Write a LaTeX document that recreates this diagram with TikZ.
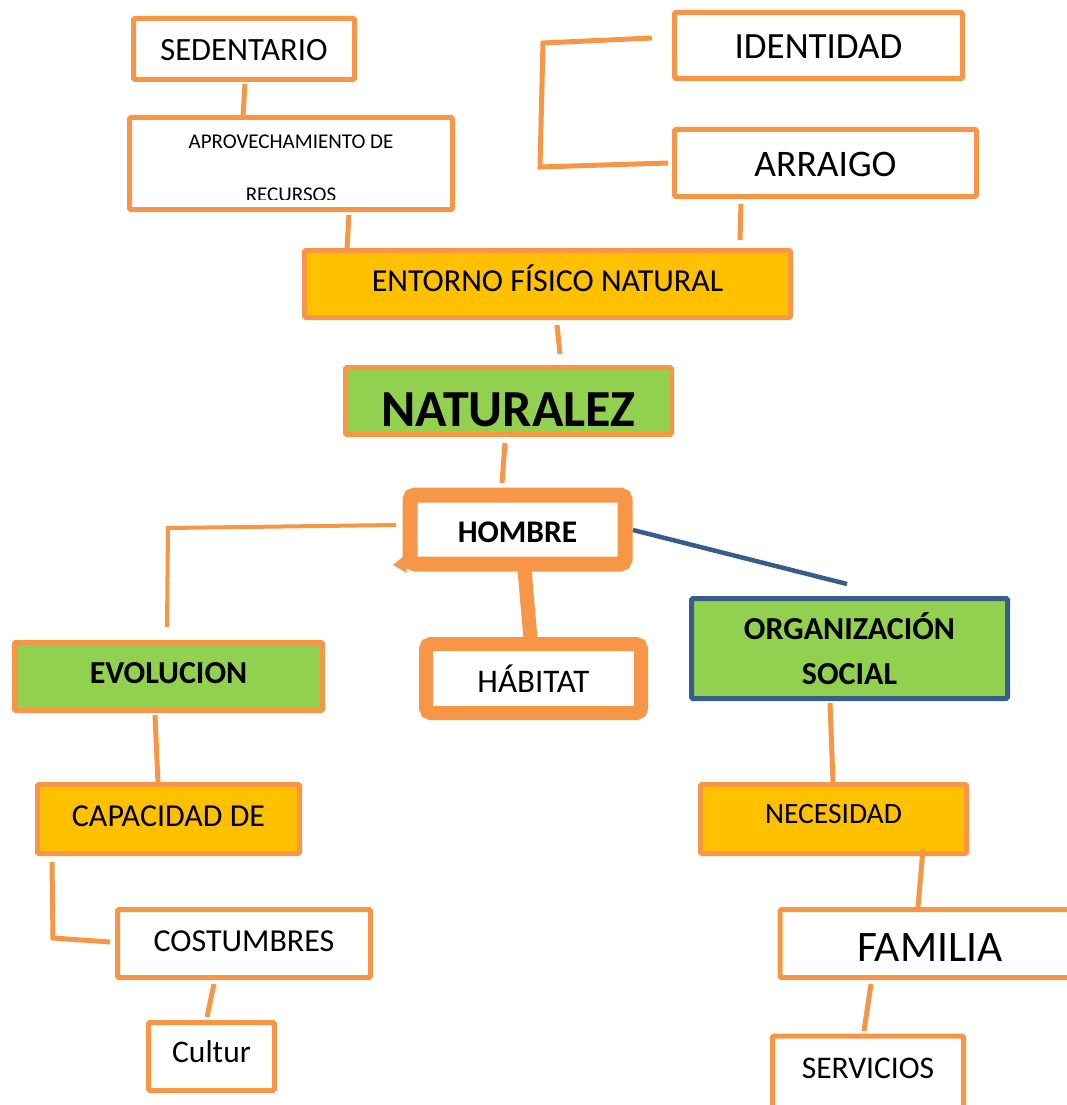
\documentclass[tikz,border=0pt]{standalone}
\usepackage{fontspec}
\setmainfont{Carlito}
\usetikzlibrary{calc}
\definecolor{borange}{HTML}{F79646}
\definecolor{fyellow}{HTML}{FFC000}
\definecolor{fgreen}{HTML}{92D050}
\definecolor{bblue}{HTML}{385D8A}
\newcommand{\fz}[1]{\fontsize{#1}{#1}\selectfont}
\tikzset{
  box/.style={draw=borange, line width=5pt, fill=white, rectangle, inner sep=0pt,
              outer sep=0pt, rounded corners=1.5pt, text depth=0pt},
  fs/.style={font=\fz{#1}, text height={0.632*#1pt}},
  fsb/.style={font=\bfseries\fz{#1}, text height={0.632*#1pt}},
  thickbox/.style={box, line width=15pt, rounded corners=5pt},
  ybox/.style={box, fill=fyellow},
  gbox/.style={box, fill=fgreen},
  conn/.style={draw=borange, line width=5pt},
  thinconn/.style={draw=borange, line width=4pt},
  blueconn/.style={draw=bblue, line width=4.5pt},
}
\begin{document}
\begin{tikzpicture}[x=1pt,y=-1pt]
\useasboundingbox (0,0) rectangle (1067,1105);
\clip (0,0) rectangle (1067,1105);

% nodes
\node[box, minimum width=221pt, minimum height=61pt, fs=32.5] (sed) at (244,49) {\raisebox{-1pt}{SEDENTARIO}};
\node[box, minimum width=323pt, minimum height=92pt] (apr) at (291,163.5) {};
\begin{scope}
  \clip (129,118) rectangle (453,199);
  \node[anchor=base, inner sep=0pt, font=\fz{21}] (apr1) at (291,148) {APROVECHAMIENTO DE};
  \node[anchor=base, inner sep=0pt, font=\fz{21}] (apr2) at (291,201) {RECURSOS};
\end{scope}
\node[box, minimum width=288pt, minimum height=66pt, fs=37] (ide) at (818.5,45.5) {\raisebox{-1pt}{IDENTIDAD}};
\node[box, minimum width=302pt, minimum height=67pt, fs=37.5] (arr) at (825.5,163) {\raisebox{-1.5pt}{ARRAIGO}};
\node[ybox, minimum width=486pt, minimum height=67pt, fs=32] (ent) at (547.5,284) {\raisebox{2.5pt}{ENTORNO FÍSICO NATURAL}};
\node[gbox, minimum width=326pt, minimum height=67pt, fsb=52] (nat) at (508.5,401) {\raisebox{-9pt}{NATURALEZ}};
\node[thickbox, minimum width=215pt, minimum height=69pt, fsb=31.5] (hom) at (517.5,529.5) {\raisebox{-3pt}{HOMBRE}};
\node[thickbox, line width=14pt, minimum width=215pt, minimum height=69pt, fs=33] (hab) at (533.5,678.5) {\raisebox{-3.5pt}{HÁBITAT}};
\node[gbox, minimum width=308pt, minimum height=68pt, fsb=32] (evo) at (168.5,676.5) {\raisebox{3.5pt}{EVOLUCION}};
\node[ybox, minimum width=262pt, minimum height=69pt, fs=32] (cap) at (168.5,819) {\raisebox{3pt}{CAPACIDAD DE}};
\node[box, minimum width=253pt, minimum height=68pt, fs=32] (cos) at (244,943.5) {\raisebox{2.5pt}{COSTUMBRES}};
\node[box, minimum width=126pt, minimum height=68pt, fs=31.5] (cul) at (211.5,1056.5) {\raisebox{3.5pt}{Cultur}};
\node[gbox, draw=bblue, minimum width=316pt, minimum height=100pt, fsb=32] (org) at (849.5,648.5)
      {\makebox[0pt]{\raisebox{19.5pt}[0pt][0pt]{ORGANIZACIÓN}}\makebox[0pt]{\raisebox{-25.5pt}[0pt][0pt]{SOCIAL}}};
\node[ybox, minimum width=266pt, minimum height=69pt, fs=29.5] (nec) at (833.5,819) {\raisebox{5pt}{NECESIDAD}};
\node[box, minimum width=300pt, minimum height=68pt, fs=43.5] (fam) at (930,943.5) {\raisebox{-4.5pt}{FAMILIA}};
\node[box, minimum width=191pt, minimum height=72pt, fs=31.5] (ser) at (868,1072) {\raisebox{3.5pt}{SERVICIOS}};

% small notch on HOMBRE
\fill[borange] (404,556) -- (393,565) -- (407,573) -- cycle;

% connectors
\draw[conn] ($(sed.south)+(1,4.5)$) -- ($(apr.north)+(-48,-2.5)$);
\draw[conn] ($(apr.south)+(58,5.5)$) -- ($(ent.north)+(-200.5,-2)$);
\draw[conn] ($(arr.south)+(-84.5,7.5)$) -- ($(ent.north)+(192.5,-10.5)$);
\draw[conn] ($(ide.west)+(-22.5,-7.5)$) -- (543,43) -- (540,167) -- ($(arr.west)+(-6.5,0)$);
\draw[conn] ($(ent.south)+(9.5,7.5)$) -- ($(nat.north)+(51.5,-13.5)$);
\draw[conn] ($(nat.south)+(-3.5,8.5)$) -- ($(hom.north)+(-15.5,-12)$);
\draw[thinconn] ($(hom.west)+(-14,-4.5)$) -- (168,528) -- ($(evo.north)+(-1.5,-15.5)$);
\draw[blueconn] ($(hom.east)+(8,0.5)$) -- ($(org.north)+(-2.5,-14.5)$);
\draw[draw=borange, line width=14pt] ($(hom.south)+(6.5,0)$) -- ($(hab.north)+(-2.5,0)$);
\draw[conn] ($(evo.south)+(-13.5,4.5)$) -- ($(cap.north)+(-10.5,-2)$);
\draw[conn] ($(cap.south)+(-116.5,8.5)$) -- (53,938) -- ($(cos.west)+(-7.5,-1.5)$);
\draw[conn] ($(cos.south)+(-30,6.5)$) -- ($(cul.north)+(-4.5,-5.5)$);
\draw[conn] ($(org.south)+(-19.5,4.5)$) -- ($(nec.north)+(-0.5,-2)$);
\draw[conn] ($(nec.south)+(89.5,-4.5)$) -- ($(fam.north)+(-12,-2.5)$);
\draw[conn] ($(fam.south)+(-59,6.5)$) -- ($(ser.north)+(-4,-5)$);
\end{tikzpicture}
\end{document}
